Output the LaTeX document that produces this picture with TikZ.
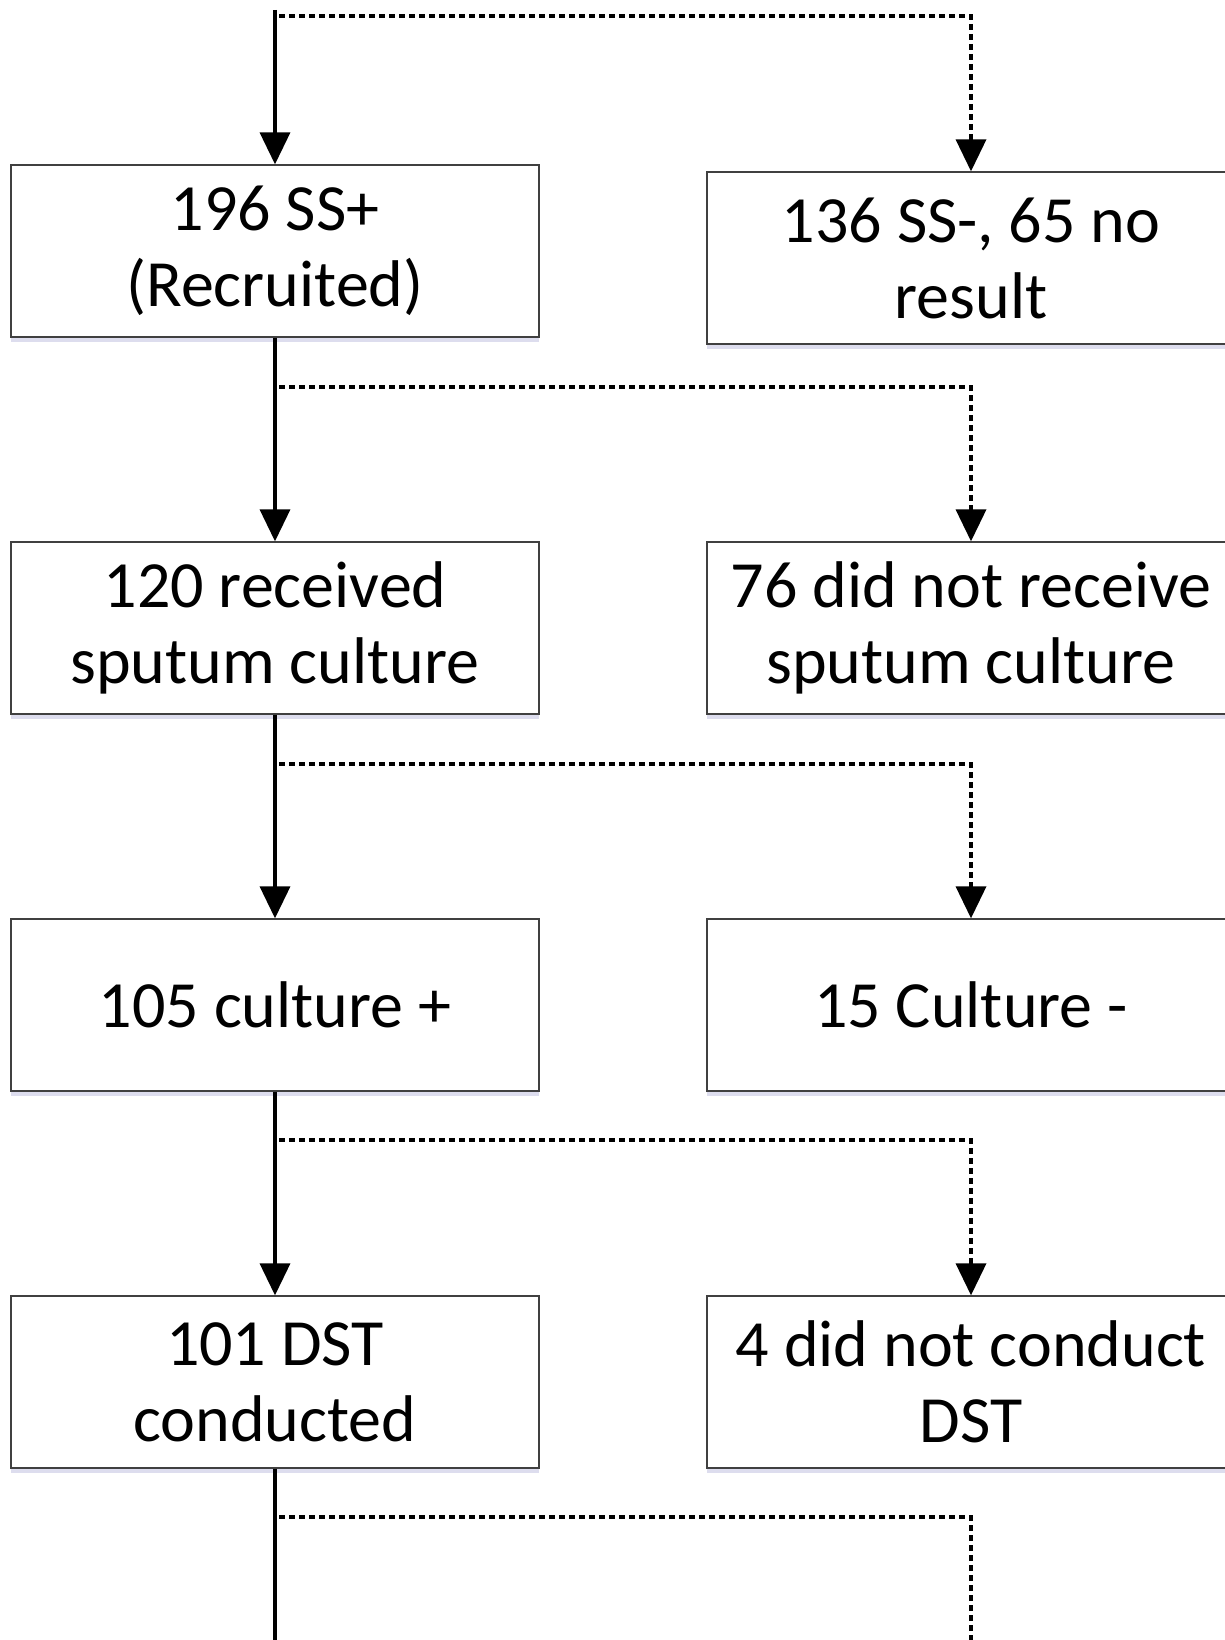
\documentclass[tikz,border=0pt]{standalone}
\usepackage{fontspec}
\setmainfont{Carlito}
\usetikzlibrary{positioning, arrows.meta, shadows}

\tikzset{
  stage/.style={draw=black!75, line width=1.3pt, fill=white, align=center,
    minimum width=528pt, minimum height=172pt, inner sep=0pt,
    font=\fontsize{66}{76}\selectfont,
    drop shadow={opacity=0.2, fill=blue!35!gray, shadow xshift=0pt, shadow yshift=-5pt}},
  flow/.style={line width=3.6pt, -{Triangle[length=32pt, width=30pt]}},
  flowend/.style={line width=3.6pt},
  lost/.style={line width=3.6pt, dash pattern=on 6pt off 4pt, -{Triangle[length=32pt, width=30pt]}},
  lostend/.style={line width=3.6pt, dash pattern=on 6pt off 4pt}
}

\begin{document}
\begin{tikzpicture}[x=1pt, y=-1pt, node distance=377pt and 696pt, on grid]
\useasboundingbox (0,0) rectangle (1224,1640);

\node[stage] (recruited) at (275,251) {196 SS+\\(Recruited)};
\node[stage] (noresult)  [right = of recruited, yshift=-7pt] {136 SS-, 65 no\\result};
\node[stage] (sputum)    [below = of recruited] {120 received\\sputum culture};
\node[stage] (nosputum)  [right = of sputum] {76 did not receive\\sputum culture};
\node[stage] (cultpos)   [below = of sputum] {105 culture +};
\node[stage] (cultneg)   [right = of cultpos] {15 Culture -};
\node[stage] (dst)       [below = of cultpos] {101 DST\\conducted};
\node[stage] (nodst)     [right = of dst] {4 did not conduct\\DST};

% branch points on the main line
\coordinate (top) at (275,10);
\coordinate (b0) at (279,16);
\coordinate (b1) at (279,387);
\coordinate (b2) at (279,764);
\coordinate (b3) at (279,1140);
\coordinate (b4) at (279,1517);
\coordinate (end1) at (275,1640);
\coordinate (end2) at (971,1640);

\draw[flow] (top) -- (recruited);
\draw[flow] (recruited) -- (sputum);
\draw[flow] (sputum) -- (cultpos);
\draw[flow] (cultpos) -- (dst);
\draw[flowend] (dst) -- (end1);

\draw[lost] (b0) -| (noresult);
\draw[lost] (b1) -| (nosputum);
\draw[lost] (b2) -| (cultneg);
\draw[lost] (b3) -| (nodst);
\draw[lostend] (b4) -| (end2);
\end{tikzpicture}
\end{document}
